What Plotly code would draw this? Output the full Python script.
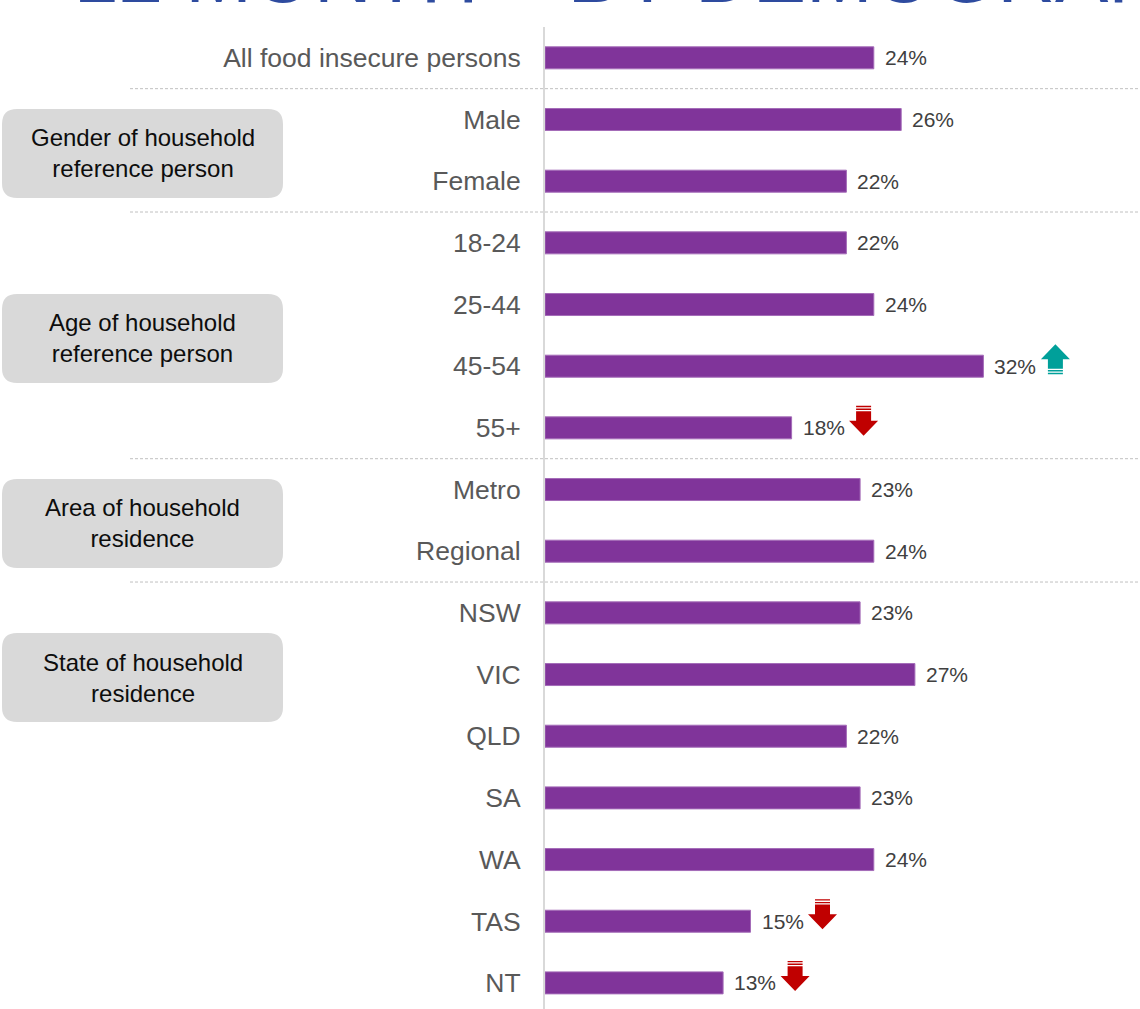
import plotly.graph_objects as go

# Share of food insecure persons (%) by demographic group
categories = [
    "All food insecure persons",
    "Male", "Female",
    "18-24", "25-44", "45-54", "55+",
    "Metro", "Regional",
    "NSW", "VIC", "QLD", "SA", "WA", "TAS", "NT",
]
values = [24, 26, 22, 22, 24, 32, 18, 23, 24, 23, 27, 22, 23, 24, 15, 13]
# significant change vs total: "up", "down" or None
changes = [None, None, None, None, None, "up", "down", None, None,
           None, None, None, None, None, "down", "down"]

# group boxes: label, first row, last row, box centre row
groups = [
    ("Gender of household<br>reference person", 1, 2, 1.55),
    ("Age of household<br>reference person", 3, 6, 4.55),
    ("Area of household<br>residence", 7, 8, 7.55),
    ("State of household<br>residence", 9, 15, 10.05),
]

title_text = "12 MONTH – BY DEMOGRAPHIC"

FONT = "Liberation Sans, Arial, Helvetica, sans-serif"
BAR = "#80349A"
UP = "#00A09A"
DOWN = "#C00000"

W, H = 1140, 1009
M_L, M_T = 545, 27
PX_PER_PCT = 13.7
ROW_PX = 61.67
n = len(categories)
x_max = (W - M_L) / PX_PER_PCT
y_max = (H - M_T) / ROW_PX - 0.5

fig = go.Figure()
fig.add_trace(go.Bar(
    x=values, y=list(range(n)), orientation="h", width=22 / ROW_PX,
    marker=dict(color=BAR, line=dict(color="#A46CB8", width=1)),
    hoverinfo="skip",
))

# value labels
for i, v in enumerate(values):
    fig.add_annotation(
        x=v, y=i, xref="x", yref="y", text=f"{v}%", showarrow=False,
        xanchor="left", yanchor="middle", xshift=9,
        font=dict(family=FONT, size=21, color="#404040"),
    )


def arrow_path(direction):
    """Block arrow with striped tail, in pixels relative to bar end / row centre."""
    cx, hw, sw = 72, 14.5, 7.5
    # screen coordinates (y down) for a down arrow
    polys = [
        [(cx - sw, -22), (cx + sw, -22), (cx + sw, -20.6), (cx - sw, -20.6)],
        [(cx - sw, -19.3), (cx + sw, -19.3), (cx + sw, -17.9), (cx - sw, -17.9)],
        [(cx - sw, -16.6), (cx + sw, -16.6), (cx + sw, -7), (cx + hw, -7),
         (cx, 8), (cx - hw, -7), (cx - sw, -7)],
    ]
    parts = []
    for poly in polys:
        pts = []
        for x, y in poly:
            if direction == "up":
                y = -14 - y
            pts.append(f"{x:.1f},{-y:.1f}")
        parts.append("M" + " L".join(pts) + " Z")
    return " ".join(parts)


for i, (v, c) in enumerate(zip(values, changes)):
    if c is None:
        continue
    fig.add_shape(
        type="path", xref="x", yref="y", xsizemode="pixel", ysizemode="pixel",
        xanchor=v, yanchor=i, path=arrow_path(c),
        fillcolor=UP if c == "up" else DOWN, line=dict(width=0),
    )

# dashed separators between groups
sep_x0 = (130 - M_L) / (W - M_L)
for _, first, _, _ in groups:
    fig.add_shape(
        type="line", xref="paper", yref="y", x0=sep_x0, x1=1,
        y0=first - 0.5, y1=first - 0.5,
        line=dict(color="#C0C0C0", width=1, dash="3px,2px"),
    )

# rounded group boxes with labels
bx0, bx1, bh, r = 2 - M_L, 283 - M_L, 89, 15
for label, first, last, centre in groups:
    t, b = bh / 2, -bh / 2
    path = (
        f"M{bx0 + r},{t} L{bx1 - r},{t} Q{bx1},{t} {bx1},{t - r} "
        f"L{bx1},{b + r} Q{bx1},{b} {bx1 - r},{b} "
        f"L{bx0 + r},{b} Q{bx0},{b} {bx0},{b + r} "
        f"L{bx0},{t - r} Q{bx0},{t} {bx0 + r},{t} Z"
    )
    fig.add_shape(
        type="path", xref="paper", yref="y", xsizemode="pixel", ysizemode="pixel",
        xanchor=0, yanchor=centre, path=path,
        fillcolor="#D9D9D9", line=dict(width=0), layer="below",
    )
    fig.add_annotation(
        x=0, y=centre, xref="paper", yref="y", xshift=(bx0 + bx1) / 2,
        text=label, showarrow=False, xanchor="center", yanchor="middle",
        font=dict(family=FONT, size=24, color="#0D0D0D"),
    )

# heading (runs off the top edge)
fig.add_annotation(
    x=0, y=1, xref="paper", yref="paper", xshift=72 - M_L, yshift=6,
    text=title_text, showarrow=False, xanchor="left", yanchor="bottom",
    font=dict(family=FONT, size=80, color="#2E4B9F"),
)

fig.update_layout(
    width=W, height=H,
    margin=dict(l=M_L, r=0, t=M_T, b=0, pad=0),
    paper_bgcolor="white", plot_bgcolor="white",
    showlegend=False,
    xaxis=dict(range=[0, x_max], visible=False, fixedrange=True),
    yaxis=dict(
        range=[y_max, -0.5], tickvals=list(range(n)), ticktext=categories,
        showgrid=False, zeroline=False, showline=True,
        linecolor="#D9D9D9", linewidth=2, ticks="", ticklabelstandoff=17,
        tickfont=dict(family=FONT, size=26.5, color="#595959"),
        fixedrange=True,
    ),
)

fig.write_html("out.html", config={"displayModeBar": False})
